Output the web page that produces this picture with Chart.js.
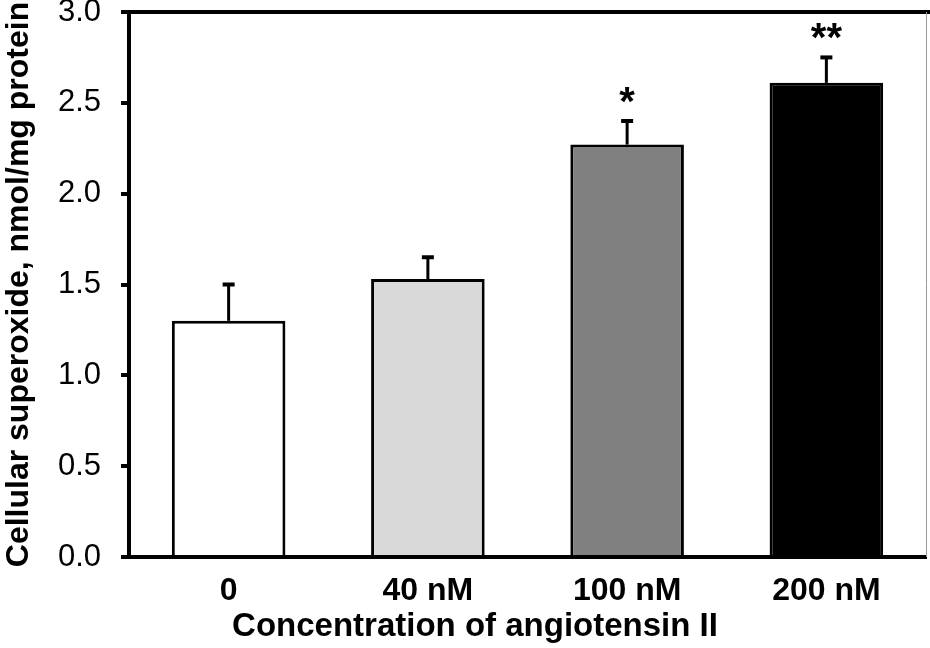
<!DOCTYPE html>
<html>
<head>
<meta charset="utf-8">
<script src="https://cdn.jsdelivr.net/npm/chart.js@4.4.1/dist/chart.umd.min.js"></script>
<style>
  html, body { margin: 0; padding: 0; background: #fff; }
  #wrap { width: 930px; height: 648px; }
</style>
</head>
<body>
<div id="wrap"><canvas id="barchart"></canvas></div>
<script>
const labels = ['0', '40 nM', '100 nM', '200 nM'];
const means = [1.30, 1.53, 2.27, 2.61];
const errors = [0.20, 0.12, 0.13, 0.14];
const marks = ['', '', '*', '**'];
const fills = ['#ffffff', '#d9d9d9', '#808080', '#000000'];
const yTicks = [0, 0.5, 1.0, 1.5, 2.0, 2.5, 3.0];
const xTitle = 'Concentration of angiotensin II';

const FONT = "'Liberation Sans', Arial, sans-serif";

// error bars (upper only) + significance stars
const errorBars = {
    id: 'errorBars',
    afterDatasetsDraw(chart) {
        const ctx = chart.ctx;
        const y = chart.scales.y;
        const meta = chart.getDatasetMeta(0);
        ctx.save();
        ctx.strokeStyle = '#000';
        ctx.fillStyle = '#000';
        meta.data.forEach((bar, i) => {
            const top = y.getPixelForValue(means[i] + errors[i]);
            ctx.lineWidth = 3;
            ctx.beginPath();
            ctx.moveTo(bar.x, bar.y);
            ctx.lineTo(bar.x, top);
            ctx.stroke();
            ctx.lineWidth = 4;
            ctx.beginPath();
            ctx.moveTo(bar.x - 6, top);
            ctx.lineTo(bar.x + 6, top);
            ctx.stroke();
            if (marks[i]) {
                ctx.font = 'bold 40px ' + FONT;
                ctx.textAlign = 'center';
                ctx.textBaseline = 'alphabetic';
                ctx.fillText(marks[i], bar.x, top - 6);
            }
        });
        ctx.restore();
    }
};

// frame: thick top line, thin grey right line, x title
const frame = {
    id: 'frame',
    afterDraw(chart) {
        const {ctx, chartArea: a} = chart;
        ctx.save();
        ctx.strokeStyle = '#000';
        ctx.lineWidth = 4;
        ctx.beginPath();
        ctx.moveTo(a.left - 8, a.top);
        ctx.lineTo(a.right + 4, a.top);
        ctx.stroke();
        ctx.strokeStyle = '#999';
        ctx.lineWidth = 1;
        ctx.beginPath();
        ctx.moveTo(a.right + 0.5, a.top);
        ctx.lineTo(a.right + 0.5, a.bottom);
        ctx.stroke();
        ctx.fillStyle = '#000';
        ctx.font = 'bold 33px ' + FONT;
        ctx.textAlign = 'center';
        ctx.textBaseline = 'middle';
        ctx.fillText(xTitle, chart.width / 2 + 10, chart.height - 21);
        ctx.restore();
    }
};

new Chart(document.getElementById('barchart'), {
    type: 'bar',
    data: {
        labels: labels,
        datasets: [{
            data: means,
            backgroundColor: fills,
            borderColor: '#000',
            borderWidth: 3,
            borderSkipped: 'start',
            barPercentage: 0.57,
            categoryPercentage: 1.0
        }]
    },
    options: {
        responsive: true,
        maintainAspectRatio: false,
        animation: false,
        layout: { padding: { top: 12, right: 4, left: 0, bottom: 0 } },
        scales: {
            x: {
                grid: { display: false },
                border: { display: true, color: '#000', width: 4 },
                ticks: {
                    color: '#000',
                    padding: 7,
                    font: { family: FONT, size: 32, weight: 'bold' }
                },
                title: { display: false },
                afterFit(scale) { scale.height = 91; }
            },
            y: {
                min: 0,
                max: 3,
                afterBuildTicks(scale) {
                    scale.ticks = yTicks.map(v => ({ value: v }));
                },
                grid: {
                    drawOnChartArea: false,
                    drawTicks: true,
                    tickLength: 8,
                    tickColor: '#000',
                    tickWidth: 4,
                    lineWidth: 4
                },
                border: { display: true, color: '#000', width: 4 },
                ticks: {
                    color: '#000',
                    padding: 20,
                    callback: v => Number(v).toFixed(1),
                    font: { family: FONT, size: 31 }
                },
                title: {
                    display: true,
                    text: 'Cellular superoxide, nmol/mg protein',
                    color: '#000',
                    padding: { top: 0, bottom: 0 },
                    font: { family: FONT, size: 32, weight: 'bold' }
                },
                afterFit(scale) {
                    scale.width = 129;
                    scale.paddingTop = 0;
                    scale.paddingBottom = 0;
                }
            }
        },
        plugins: {
            legend: { display: false },
            tooltip: { enabled: false }
        }
    },
    plugins: [errorBars, frame]
});
</script>
</body>
</html>
